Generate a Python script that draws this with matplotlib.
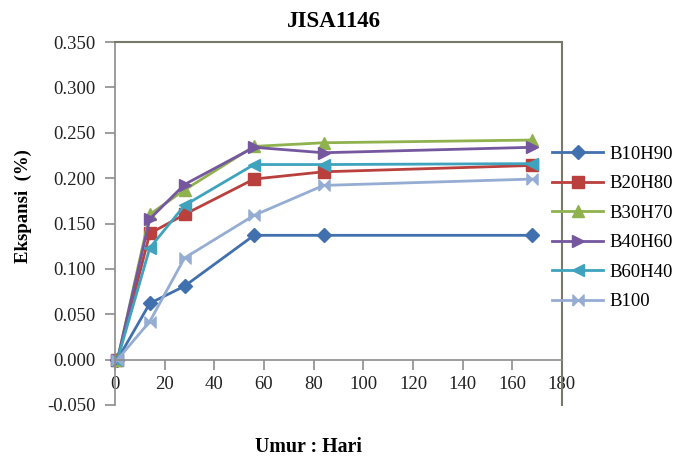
import matplotlib
matplotlib.use("Agg")
import matplotlib.pyplot as plt
from matplotlib.ticker import MultipleLocator, FormatStrFormatter

plt.rcParams['font.family'] = ['Liberation Serif', 'DejaVu Serif']

# umur pengujian (hari)
hari = [1, 14, 28, 56, 84, 168]

b10h90 = [0.000, 0.062, 0.081, 0.137, 0.137, 0.137]
b20h80 = [0.000, 0.139, 0.160, 0.199, 0.207, 0.214]
b30h70 = [0.000, 0.160, 0.187, 0.235, 0.239, 0.242]
b40h60 = [0.000, 0.155, 0.193, 0.234, 0.228, 0.234]
b60h40 = [0.000, 0.123, 0.170, 0.215, 0.215, 0.216]
b100 = [0.000, 0.042, 0.112, 0.159, 0.192, 0.199]

label_seri = ['B10H90', 'B20H80', 'B30H70', 'B40H60', 'B60H40', 'B100']

bowtie = [(-1, -1), (1, 1), (1, -1), (-1, 1), (-1, -1)]
gaya = [
    ('#4170AE', 'D', 7),
    ('#BA403D', 's', 8),
    ('#8FB14E', '^', 8.5),
    ('#7557A0', '>', 8.5),
    ('#3FA3BE', '<', 8.5),
    ('#95ACD3', bowtie, 8),
]

fig = plt.figure(figsize=(6.82, 4.57), dpi=100)
ax = fig.add_axes([0.1686, 0.1138, 0.8240 - 0.1686, 0.908 - 0.1138])

for data, nama, (warna, mk, ms) in zip([b10h90, b20h80, b30h70, b40h60, b60h40, b100], label_seri, gaya):
    ax.plot(hari, data, color=warna, marker=mk, markersize=ms, linewidth=2,
            markeredgecolor=warna, markerfacecolor=warna, label=nama, clip_on=False)

ax.set_xlim(0, 180)
ax.set_ylim(-0.05, 0.35)
ax.xaxis.set_major_locator(MultipleLocator(20))
ax.yaxis.set_major_locator(MultipleLocator(0.05))
ax.yaxis.set_major_formatter(FormatStrFormatter('%.3f'))

# sumbu x lewat y = 0
ax.spines['bottom'].set_position(('data', 0))
for s in ['left', 'bottom']:
    ax.spines[s].set_color('#8C8C8C')
    ax.spines[s].set_linewidth(1.2)
for s in ['top', 'right']:
    ax.spines[s].set_color('#77776A')
    ax.spines[s].set_linewidth(1.5)

ax.tick_params(axis='both', direction='out', length=7, width=1.2, color='#8C8C8C',
               labelsize=13.5, labelcolor='#222222')
ax.tick_params(axis='x', pad=5)
ax.tick_params(axis='y', pad=7)

fig.text(0.489, 0.941, 'JISA1146', fontsize=16.5, fontweight='bold', ha='center', va='baseline')
ax.set_ylabel('Ekspansi  (%)', fontsize=13.5, fontweight='bold')
ax.yaxis.set_label_coords(-0.185, 0.548)
fig.text(0.452, 0.012, 'Umur : Hari', fontsize=14.3, fontweight='bold', ha='center', va='baseline')

ax.legend(loc='center left', bbox_to_anchor=(0.962, 0.488), frameon=False, fontsize=13.5,
          handlelength=2.67, labelspacing=0.66, handletextpad=0.37, borderaxespad=0)

fig.savefig('out.png', dpi=100)
